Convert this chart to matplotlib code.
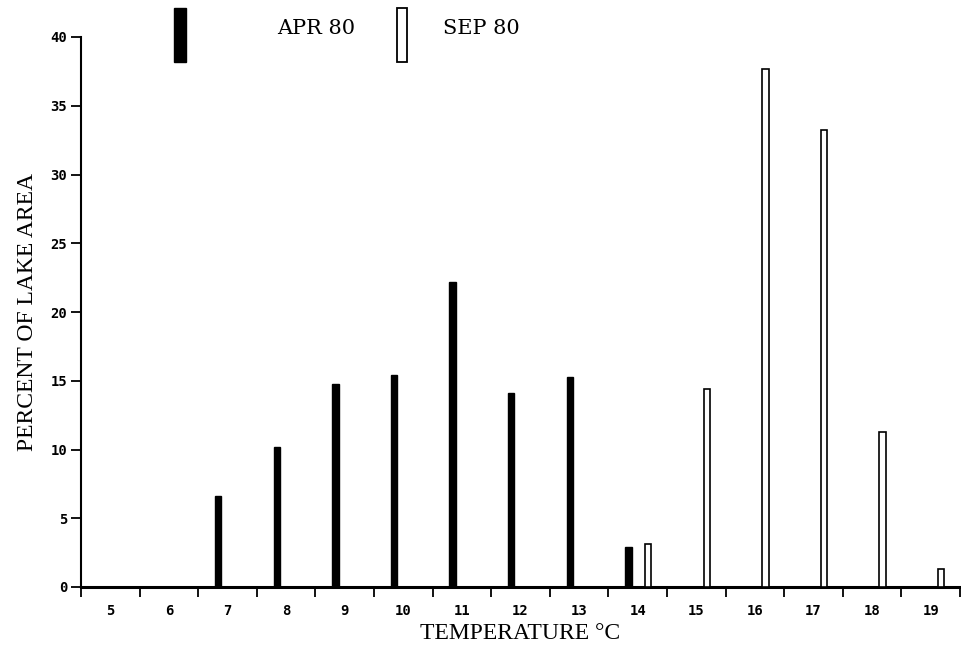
import matplotlib
matplotlib.use("Agg")
from matplotlib import pyplot as plt
from matplotlib.patches import Rectangle

# temperature classes (deg C)
temps = [5, 6, 7, 8, 9, 10, 11, 12, 13, 14, 15, 16, 17, 18, 19]

# percent of lake area, April 1980
apr_temps = [7, 8, 9, 10, 11, 12, 13, 14]
apr_pct = [6.6, 10.2, 14.8, 15.4, 22.2, 14.1, 15.3, 2.9]

# percent of lake area, September 1980
sep_temps = [14, 15, 16, 17, 18, 19]
sep_pct = [3.1, 14.4, 37.7, 33.2, 11.3, 1.3]

y_ticks = [0, 5, 10, 15, 20, 25, 30, 35, 40]

serif = "Liberation Serif"
mono = "DejaVu Sans Mono"

fig = plt.figure(figsize=(9.61, 6.45), dpi=100)
ax = fig.add_axes([81 / 961, 1 - 587 / 645, 879 / 961, 550 / 645])

bar_w = 0.11
ax.bar([t - 0.16 for t in apr_temps], apr_pct, width=bar_w,
       color="black", edgecolor="black", linewidth=1.0, zorder=3)
ax.bar([t + 0.18 for t in sep_temps], sep_pct, width=bar_w,
       color="white", edgecolor="black", linewidth=1.2, zorder=3)

ax.set_xlim(4.5, 19.5)
ax.set_ylim(0, 40)

for side in ("top", "right"):
    ax.spines[side].set_visible(False)
ax.spines["left"].set_linewidth(1.5)
ax.spines["bottom"].set_linewidth(2.2)

# cell boundaries get the tick marks, labels sit in the middle of each cell
ax.set_xticks([t - 0.5 for t in temps] + [temps[-1] + 0.5])
ax.set_xticklabels([])
ax.set_xticks(temps, minor=True)
ax.set_xticklabels([str(t) for t in temps], minor=True,
                   fontfamily=mono, fontweight="bold", fontsize=10)
ax.tick_params(axis="x", which="major", direction="out", length=7, width=1.3)
ax.tick_params(axis="x", which="minor", length=0, pad=12)

ax.set_yticks(y_ticks)
ax.set_yticklabels([str(v) for v in y_ticks],
                   fontfamily=mono, fontweight="bold", fontsize=10)
ax.tick_params(axis="y", direction="out", length=7, width=1.3, pad=3)

ax.set_xlabel("TEMPERATURE °C", fontfamily=serif, fontsize=17, labelpad=4)
ax.set_ylabel("PERCENT OF LAKE AREA", fontfamily=serif, fontsize=17, labelpad=9)

# legend drawn above the plot area
fig.patches.append(Rectangle((174 / 961, 1 - 62 / 645), 12 / 961, 54 / 645,
                             transform=fig.transFigure, facecolor="black",
                             edgecolor="black"))
fig.patches.append(Rectangle((397 / 961, 1 - 62 / 645), 10 / 961, 54 / 645,
                             transform=fig.transFigure, facecolor="white",
                             edgecolor="black", linewidth=1.3))
fig.text(277 / 961, 1 - 29 / 645, "APR 80", fontfamily="DejaVu Serif",
         fontsize=15, va="center", ha="left")
fig.text(443 / 961, 1 - 29 / 645, "SEP 80", fontfamily="DejaVu Serif",
         fontsize=15, va="center", ha="left")

fig.savefig("out.png", dpi=100)
